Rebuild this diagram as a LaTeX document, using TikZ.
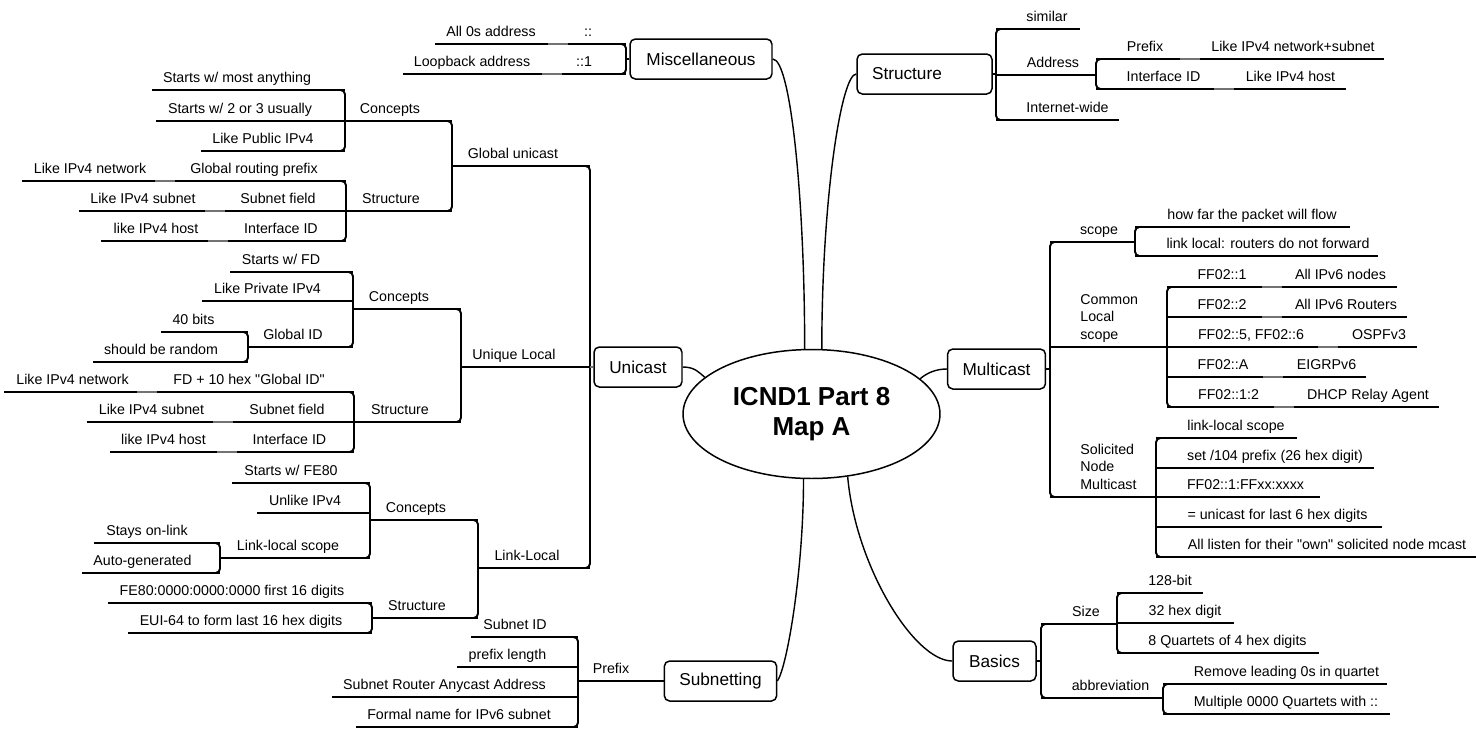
\documentclass[tikz,border=0pt]{standalone}
\usepackage{fontspec}
\setmainfont{Liberation Sans}[Ligatures=TeXOff]
\usetikzlibrary{shapes.geometric}
\newcommand\leaffont{\fontsize{8.1}{9.7}\selectfont}
\newcommand\branchfont{\fontsize{9.8}{11.5}\selectfont}
\newcommand\titlefont{\fontsize{14.8}{17}\selectfont\bfseries}
\tikzset{
  leaf/.style={font=\leaffont, inner sep=0pt, anchor=base},
  branch/.style={draw, rounded corners=3pt, line width=0.85pt, minimum height=0.8cm, inner xsep=0.3cm, font=\branchfont},
  title/.style={draw, ellipse, line width=0.85pt, minimum width=5.14cm, minimum height=2.58cm, inner sep=0pt, align=center, font=\titlefont},
  uline/.style={line width=1.1pt},
  stub/.style={line width=0.8pt, draw=black!55},
  bracket/.style={uline, rounded corners=2.5pt},
  link/.style={line width=0.8pt},
}
% topic = text sitting on its own underline
\newcommand\topic[7][]{%
  \coordinate (#2-l) at (#3,#5);
  \coordinate (#2-r) at (#4,#5);
  \node[leaf,#1] (#2) at (#6,#5-8) {#7};
  \draw[uline] (#2-l) -- (#2-r);}

\begin{document}
\begin{tikzpicture}[x=0.02cm, y=-0.02cm]
  \useasboundingbox (0,0) rectangle (1476,728);
  \node[title] (map) at (811.5,414) {ICND1 Part 8\\Map A};
  \node[branch, minimum width=2.84cm] (misc) at (701,59) {Miscellaneous};
  \node[branch, text width=2.1cm, align=left] (struct) at (924.5,74) {Structure};
  \node[branch, minimum width=1.76cm] (unicast) at (638,367) {Unicast};
  \node[branch, minimum width=1.94cm] (mcast) at (996.5,369) {Multicast};
  \node[branch, minimum width=2.22cm] (subnet) at (720.5,681) {Subnetting};
  \node[branch, minimum width=1.66cm] (basics) at (994.5,661) {Basics};
  \draw[link] (misc.east) .. controls +(18,0) and +(0,-150) .. (map.96);
  \draw[link] (struct.west) .. controls +(-15,0) and +(0,-150) .. (map.81);
  \draw[link] (unicast.east) .. controls +(12,0) and +(-6,-5) .. (map.161);
  \draw[link] (mcast.west) .. controls +(-12,0) and +(6,-5) .. (map.18);
  \draw[link] (subnet.east) .. controls +(10,-15) and +(0,90) .. (map.263);
  \draw[link] (basics.west) .. controls +(-38,0) and +(8,90) .. (map.300);

  % Miscellaneous
  \topic{mi-1}{568}{626}{44}{588}{::}
  \topic{mi-1a}{435}{548}{44}{491}{All 0s address}
  \topic{mi-2}{562}{626}{74}{584}{::1}
  \topic{mi-2a}{403}{542}{74}{472}{Loopback address}
  \draw[bracket] (mi-1-r) ++(-10,0) -| (mi-2-r) -- ++(-10,0);
  \draw[uline] (misc.west) -- (misc.west -| mi-1-r);
  \draw[stub] (mi-1a-r) -- (mi-1-l); \draw[stub] (mi-2a-r) -- (mi-2-l);

  % Unicast
  \topic{gu}{452}{590}{166}{513}{Global unicast}
  \topic{gu-c}{345}{452}{121}{390}{Concepts}
  \topic{gu-c1}{152}{345}{90}{237}{Starts w/ most anything}
  \topic{gu-c2}{156}{345}{121}{240}{Starts w/ 2 or 3 usually}
  \topic{gu-c3}{201}{345}{151}{263}{Like Public IPv4}
  \topic{gu-s}{346}{452}{211}{391}{Structure}
  \topic{gu-s1}{175}{346}{181}{254}{Global routing prefix}
  \topic{gu-s1a}{22}{155}{181}{90}{Like IPv4 network}
  \topic{gu-s2}{225}{346}{211}{278}{Subnet field}
  \topic{gu-s2a}{79}{205}{211}{143}{Like IPv4 subnet}
  \topic{gu-s3}{228}{346}{241}{281}{Interface ID}
  \topic{gu-s3a}{101}{208}{241}{156}{like IPv4 host}
  \draw[bracket] (gu-c-r) ++(-10,0) -| (gu-s-r) -- ++(-10,0);
  \draw[bracket] (gu-c1-r) ++(-10,0) -| (gu-c3-r) -- ++(-10,0);
  \draw[bracket] (gu-s1-r) ++(-10,0) -| (gu-s3-r) -- ++(-10,0);
  \foreach \i in {1,2,3} \draw[stub] (gu-s\i a-r) -- (gu-s\i-l);

  \topic{ul}{461}{590}{367}{514}{Unique Local}
  \topic{ul-c}{353}{461}{309}{399}{Concepts}
  \topic{ul-c1}{230}{353}{272}{281}{Starts w/ FD}
  \topic{ul-c2}{202}{353}{301}{267.5}{Like Private IPv4}
  \topic{ul-c3}{248}{353}{347}{293}{Global ID}
  \topic{ul-c3a}{161}{248}{332}{193.5}{40 bits}
  \topic{ul-c3b}{93}{248}{362}{161}{should be random}
  \topic{ul-s}{354}{461}{422}{400}{Structure}
  \topic{ul-s1}{157}{354}{392}{249}{FD + 10 hex "Global ID"}
  \topic{ul-s1a}{4}{137}{392}{72.5}{Like IPv4 network}
  \topic{ul-s2}{233}{354}{422}{287}{Subnet field}
  \topic{ul-s2a}{87}{213}{422}{151.5}{Like IPv4 subnet}
  \topic{ul-s3}{237}{354}{452}{289.5}{Interface ID}
  \topic{ul-s3a}{110}{217}{452}{163.5}{like IPv4 host}
  \draw[bracket] (ul-c-r) ++(-10,0) -| (ul-s-r) -- ++(-10,0);
  \draw[bracket] (ul-c1-r) ++(-10,0) -| (ul-c3-r) -- ++(-10,0);
  \draw[bracket] (ul-c3a-r) ++(-10,0) -| (ul-c3b-r) -- ++(-10,0);
  \draw[bracket] (ul-s1-r) ++(-10,0) -| (ul-s3-r) -- ++(-10,0);
  \foreach \i in {1,2,3} \draw[stub] (ul-s\i a-r) -- (ul-s\i-l);

  \topic{ll}{478}{590}{568}{527}{Link-Local}
  \topic{ll-c}{370}{478}{520}{416}{Concepts}
  \topic{ll-c1}{232}{370}{483}{291}{Starts w/ FE80}
  \topic{ll-c2}{257}{370}{513}{305}{Unlike IPv4}
  \topic{ll-c3}{220}{370}{558}{288}{Link-local scope}
  \topic{ll-c3a}{94}{220}{543}{147}{Stays on-link}
  \topic{ll-c3b}{82}{220}{573}{142.5}{Auto-generated}
  \topic{ll-s}{372}{478}{618}{417}{Structure}
  \topic{ll-s1}{108}{372}{603}{232}{FE80:0000:0000:0000 first 16 digits}
  \topic{ll-s2}{128}{372}{633}{241}{EUI-64 to form last 16 hex digits}
  \draw[bracket] (ll-c-r) ++(-10,0) -| (ll-s-r) -- ++(-10,0);
  \draw[bracket] (ll-c1-r) ++(-10,0) -| (ll-c3-r) -- ++(-10,0);
  \draw[bracket] (ll-c3a-r) ++(-10,0) -| (ll-c3b-r) -- ++(-10,0);
  \draw[bracket] (ll-s1-r) ++(-10,0) -| (ll-s2-r) -- ++(-10,0);

  \draw[bracket] (gu-r) ++(-10,0) -| (ll-r) -- ++(-10,0);
  \draw[stub] (ul-r) -- (unicast.west);

  % Subnetting
  \topic{sn-p}{578}{665}{681}{611}{Prefix}
  \topic{sn-p1}{471}{578}{637}{515}{Subnet ID}
  \topic{sn-p2}{457}{578}{667}{507.5}{prefix length}
  \topic{sn-p3}{332}{578}{697}{444.5}{Subnet Router Anycast Address}
  \topic{sn-p4}{356}{578}{727}{459}{Formal name for IPv6 subnet}
  \draw[bracket] (sn-p1-r) ++(-10,0) -| (sn-p4-r) -- ++(-10,0);

  % Structure
  \topic{st-1}{996}{1080}{29}{1047}{similar}
  \topic{st-2}{996}{1096}{75}{1053}{Address}
  \topic{st-3}{996}{1119}{120}{1067.5}{Internet-wide}
  \topic{st-2a}{1096}{1180}{59}{1145}{Prefix}
  \topic{st-2b}{1096}{1214}{89}{1163.5}{Interface ID}
  \topic{st-2a1}{1200}{1384}{59}{1293}{Like IPv4 network+subnet}
  \topic{st-2b1}{1234}{1346}{89}{1290.5}{Like IPv4 host}
  \draw[bracket] (st-1-l) ++(10,0) -| (st-3-l) -- ++(10,0);
  \draw[bracket] (st-2a-l) ++(10,0) -| (st-2b-l) -- ++(10,0);
  \draw[stub] (st-2a-r) -- (st-2a1-l); \draw[stub] (st-2b-r) -- (st-2b1-l);
  \draw[uline] (struct.east) -- (struct.east -| st-1-l);

  % Multicast
  \topic{mc-1}{1050}{1135}{242}{1099}{scope}
  \topic{mc-1a}{1135}{1350}{227}{1252}{how far the packet will flow}
  \topic{mc-1b}{1135}{1378}{256}{1268}{link local: routers do not forward}
  \topic[anchor=base west, align=left]{mc-2}{1050}{1167}{347}{1080}{Common\\Local\\scope}
  \topic{mc-2a}{1167}{1262}{287}{1222}{FF02::1}
  \topic{mc-2a1}{1282}{1397}{287}{1340.5}{All IPv6 nodes}
  \topic{mc-2b}{1167}{1262}{317}{1222}{FF02::2}
  \topic{mc-2b1}{1282}{1407}{317}{1346}{All IPv6 Routers}
  \topic{mc-2c}{1167}{1318}{347}{1251}{FF02::5, FF02::6}
  \topic{mc-2c1}{1338}{1417}{347}{1379}{OSPFv3}
  \topic{mc-2d}{1167}{1263}{377}{1223}{FF02::A}
  \topic{mc-2d1}{1283}{1366}{377}{1326.5}{EIGRPv6}
  \topic{mc-2e}{1167}{1274}{407}{1228.5}{FF02::1:2}
  \topic{mc-2e1}{1294}{1439}{407}{1368}{DHCP Relay Agent}
  \topic[anchor=base west, align=left]{mc-3}{1050}{1156}{497}{1080}{Solicited\\Node\\Multicast}
  \topic{mc-3a}{1156}{1297}{438}{1236}{link-local scope}
  \topic{mc-3b}{1156}{1374}{468}{1275}{set /104 prefix (26 hex digit)}
  \topic{mc-3c}{1156}{1320}{497}{1245.5}{FF02::1:FFxx:xxxx}
  \topic{mc-3d}{1156}{1382}{527}{1277.5}{= unicast for last 6 hex digits}
  \topic{mc-3e}{1156}{1476}{557}{1327}{All listen for their "own" solicited node mcast}
  \draw[bracket] (mc-1-l) ++(10,0) -| (mc-3-l) -- ++(10,0);
  \draw[bracket] (mc-1a-l) ++(10,0) -| (mc-1b-l) -- ++(10,0);
  \draw[bracket] (mc-2a-l) ++(10,0) -| (mc-2e-l) -- ++(10,0);
  \draw[bracket] (mc-3a-l) ++(10,0) -| (mc-3e-l) -- ++(10,0);
  \foreach \r in {a,b,c,d,e} \draw[stub] (mc-2\r-r) -- (mc-2\r1-l);
  \draw[uline] (mcast.east) -- (mcast.east -| mc-1-l);

  % Basics
  \topic{ba-1}{1041}{1117}{624}{1086}{Size}
  \topic{ba-1a}{1117}{1203}{593}{1170}{128-bit}
  \topic{ba-1b}{1117}{1234}{623}{1185}{32 hex digit}
  \topic{ba-1c}{1117}{1319}{653}{1227.5}{8 Quartets of 4 hex digits}
  \topic{ba-2}{1041}{1163}{698}{1110.5}{abbreviation}
  \topic{ba-2a}{1163}{1387}{684}{1286.5}{Remove leading 0s in quartet}
  \topic{ba-2b}{1163}{1390}{714}{1286}{Multiple 0000 Quartets with ::}
  \draw[bracket] (ba-1-l) ++(10,0) -| (ba-2-l) -- ++(10,0);
  \draw[bracket] (ba-1a-l) ++(10,0) -| (ba-1c-l) -- ++(10,0);
  \draw[bracket] (ba-2a-l) ++(10,0) -| (ba-2b-l) -- ++(10,0);
  \draw[uline] (basics.east) -- (basics.east -| ba-1-l);
\end{tikzpicture}
\end{document}
